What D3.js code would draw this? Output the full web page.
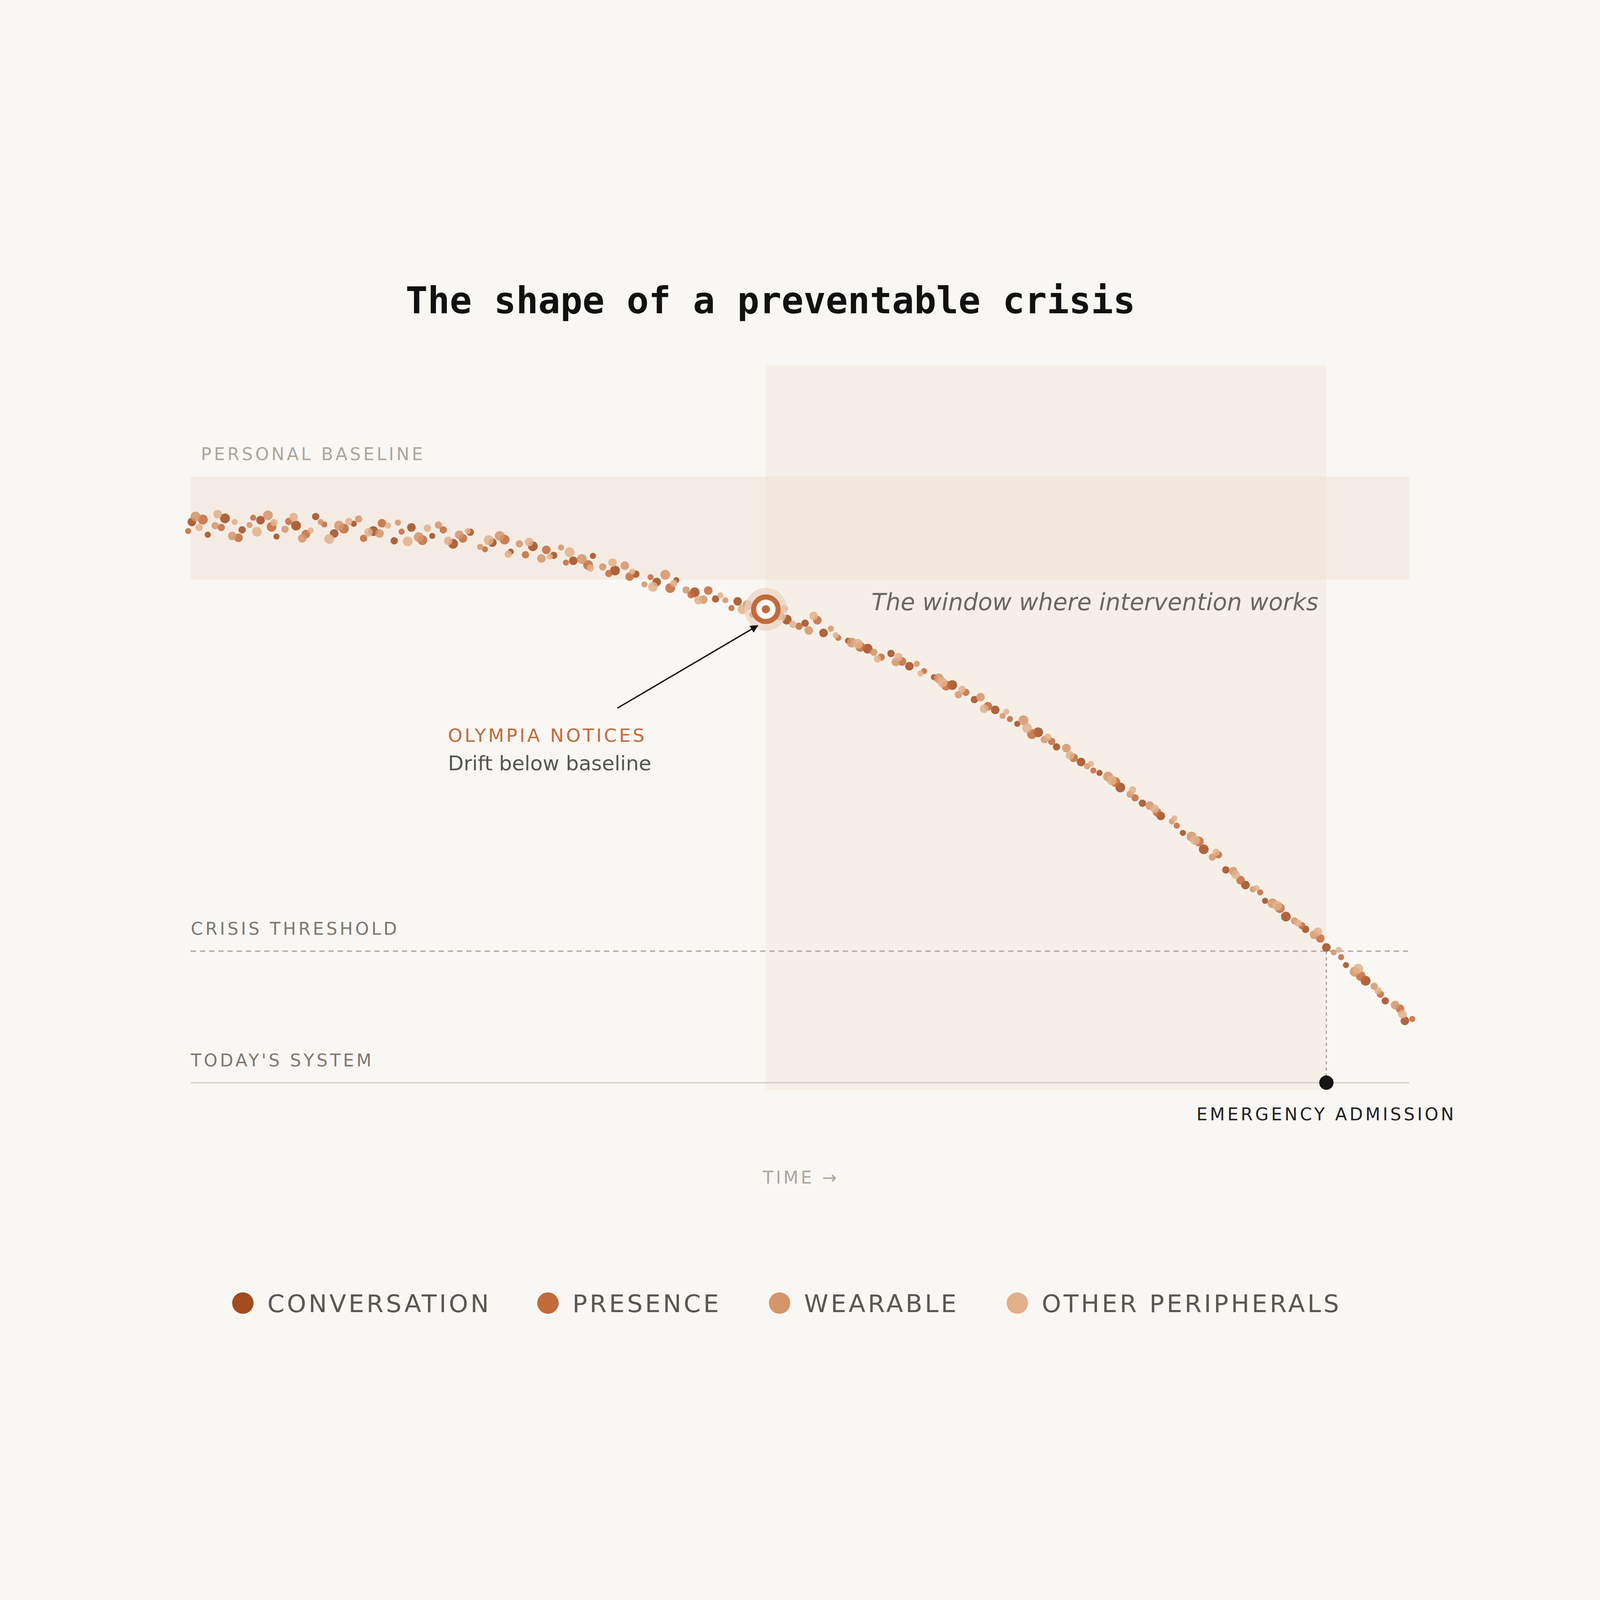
<!DOCTYPE html>
<html><head><meta charset="utf-8">
<script src="https://cdn.jsdelivr.net/npm/d3@7"></script>
<style>
html,body{margin:0;padding:0;background:#f9f7f3;overflow:hidden;width:100%;height:100%;}
svg{display:block;}
text{font-family:"DejaVu Sans",sans-serif;}
</style></head>
<body><svg id="chart"></svg>
<script>
// signal points per source: [time, wellbeing]
var conversation = [[0.5,92.5],[1.8,90.4],[3.2,93.1],[4.6,91.2],[6.1,92.8],[7.4,90.1],[9,91.9],[10.6,93.4],[12.1,90.6],[13.7,92.2],[15.3,91.0],[17,89.4],[18.4,91.6],[20.1,90.2],[21.8,88.9],[23.2,90.8],[25,89.1],[26.5,87.6],[28.3,88.5],[30,87.0],[31.6,86.1],[33.2,86.9],[35,84.5],[36.7,83.9],[38.4,82.6],[40,82.9],[41.5,80.9],[43.2,79.8],[45,79.4],[46.2,77.2],[49,76.4],[50.5,75.8],[52,74.2],[54,72.9],[55.6,71.6],[57.5,70.8],[59,68.7],[61,66.9],[62.5,65.6],[64.3,63.2],[66,61.5],[67.8,59.2],[69.5,57.8],[71,55.4],[73,52.9],[74.5,51.1],[76.2,48.7],[78,46.1],[79.5,44.0],[81.3,41.2],[83,38.5],[84.8,35.1],[86.4,32.6],[88,30.0],[89.7,27.4],[91.3,25.3],[93,22.3],[94.6,19.4],[96.2,16.8],[97.8,13.5],[99.4,10.2]];
var presence = [[0.2,91.0],[1.4,92.9],[2.9,91.6],[4.3,89.9],[5.5,93.2],[7,91.7],[8.4,92.6],[9.8,90.5],[11.3,92.1],[12.9,91.4],[14.5,89.8],[16,92.3],[17.6,90.9],[19.3,89.5],[21,91.2],[22.6,89.8],[24.4,88.0],[26,89.6],[27.7,87.1],[29.4,87.9],[31,85.8],[32.8,85.4],[34.5,84.0],[36.2,83.5],[37.9,83.4],[39.5,81.6],[41.2,80.5],[42.6,81.2],[44.5,78.3],[48.4,77.1],[50,75.3],[51.5,76.3],[53.2,73.4],[55,71.9],[56.7,70.2],[58.4,69.5],[60.2,67.9],[62,65.5],[63.6,64.4],[65.4,62.1],[67.2,60.0],[69,57.5],[70.6,56.3],[72.4,53.6],[74,51.5],[75.8,49.6],[77.4,47.0],[79.2,44.6],[80.8,42.4],[82.6,39.8],[84.2,37.6],[86,33.4],[87.6,31.4],[89.2,28.8],[91,25.9],[92.5,23.8],[94.2,20.7],[95.8,17.6],[97.4,14.6],[99,12.2],[100,10.5]];
var wearable = [[0.8,93.4],[2.4,91.9],[3.8,90.2],[5.2,92.0],[6.7,93.6],[8.1,91.3],[9.5,89.8],[11,92.5],[12.5,91.9],[14.1,93.0],[15.8,90.6],[17.3,92.4],[19,90.0],[20.6,92.0],[22.3,90.4],[24,88.4],[25.6,90.2],[27.2,88.9],[29,86.5],[30.6,88.3],[32.3,86.4],[34,85.1],[35.8,85.3],[37.4,82.2],[39.1,83.8],[40.8,81.3],[42.2,79.7],[44,79.6],[45.8,78.8],[48.8,78.2],[50.8,74.6],[52.6,74.9],[54.3,72.6],[56.1,71.0],[57.9,69.4],[59.6,69.1],[61.4,66.7],[63,64.0],[64.8,63.6],[66.6,60.5],[68.3,59.8],[70,56.6],[71.8,55.2],[73.5,52.2],[75.2,50.5],[77,47.6],[78.6,45.7],[80.4,43.1],[82,40.6],[83.7,37.2],[85.4,34.9],[87,31.9],[88.6,29.6],[90.4,26.7],[92,24.4],[93.6,21.5],[95.3,18.3],[96.9,15.9],[98.6,12.8]];
var otherPeripherals = [[1.1,91.6],[2.6,93.8],[4,92.5],[5.8,90.9],[7.2,92.4],[8.8,93.3],[10.2,91.1],[11.7,89.7],[13.3,92.6],[14.9,90.8],[16.5,91.9],[18.1,89.3],[19.7,91.5],[21.4,89.4],[23,91.0],[24.7,89.5],[26.3,87.2],[28,89.2],[29.7,86.8],[31.3,87.5],[33,84.9],[34.8,85.8],[36.4,84.3],[38.1,81.8],[39.8,82.4],[41.8,79.6],[43.6,80.4],[45.4,78.1],[49.5,75.6],[51.2,77.0],[53,73.8],[54.8,72.4],[56.4,69.9],[58.1,70.2],[59.9,67.5],[61.7,66.0],[63.3,64.9],[65.1,61.7],[66.9,61.2],[68.6,58.5],[70.3,57.0],[72.1,54.0],[73.8,52.6],[75.5,49.9],[77.2,48.3],[79,45.2],[80.6,43.6],[82.3,40.0],[84,38.0],[85.6,34.3],[87.3,32.1],[89,29.2],[90.7,26.3],[92.3,24.9],[94,21.9],[95.6,18.8],[97.2,15.2],[99.2,11.3]];

var seriesNames = ["CONVERSATION", "PRESENCE", "WEARABLE", "OTHER PERIPHERALS"];
var seriesData = [conversation, presence, wearable, otherPeripherals];
var seriesColors = ["#a24b1f", "#c36a3b", "#d4956a", "#e2b08a"];

var baselineBand = [83, 100];
var crisisThreshold = 21.7;
var todaySystem = 0;
var noticeAt = [47.3, 78.1];
var admissionAt = 93;

var W = 1568, H = 1108;
var svg = d3.select("#chart")
    .attr("viewBox", "0 0 " + W + " " + H)
    .attr("preserveAspectRatio", "xMidYMid meet")
    .style("width", "100vw").style("height", "100vh");

svg.append("rect").attr("width", W).attr("height", H).attr("fill", "#f9f7f3");

var x = d3.scaleLinear().domain([0, 100]).range([182, 1384]);
var y = d3.scaleLinear().domain([0, 100]).range([831, 237]);

// title
svg.append("text").attr("x", 755).attr("y", 77).attr("text-anchor", "middle")
    .style("font-family", "'DejaVu Sans Mono', monospace").style("font-weight", "bold")
    .style("font-size", "36px").attr("fill", "#111")
    .text("The shape of a preventable crisis");

// intervention window
svg.append("rect")
    .attr("x", x(noticeAt[0])).attr("y", 128)
    .attr("width", x(admissionAt) - x(noticeAt[0])).attr("height", 838 - 128)
    .attr("fill", "#f5efe8");

// baseline band
svg.append("rect")
    .attr("x", 187).attr("y", y(baselineBand[1]))
    .attr("width", 1381 - 187).attr("height", y(baselineBand[0]) - y(baselineBand[1]))
    .attr("fill", "#e8d5c3").attr("opacity", 0.3);

svg.append("text").attr("x", 197).attr("y", 221).attr("fill", "#aaa59d")
    .style("font-size", "17px").style("letter-spacing", "2.4px").text("PERSONAL BASELINE");

// crisis threshold
svg.append("line").attr("x1", 187).attr("x2", 1381)
    .attr("y1", y(crisisThreshold)).attr("y2", y(crisisThreshold))
    .attr("stroke", "#aaa49c").attr("stroke-width", 1.2).attr("stroke-dasharray", "5,4");
svg.append("text").attr("x", 187).attr("y", y(crisisThreshold) - 16).attr("fill", "#7d7872")
    .style("font-size", "17px").style("letter-spacing", "2.4px").text("CRISIS THRESHOLD");

// today's system
svg.append("line").attr("x1", 187).attr("x2", 1381)
    .attr("y1", y(todaySystem)).attr("y2", y(todaySystem))
    .attr("stroke", "#d2cdc6").attr("stroke-width", 1.3);
svg.append("text").attr("x", 187).attr("y", y(todaySystem) - 16).attr("fill", "#7d7872")
    .style("font-size", "17px").style("letter-spacing", "2.4px").text("TODAY'S SYSTEM");

svg.append("text").attr("x", 1292).attr("y", 368).attr("text-anchor", "end")
    .attr("fill", "#6b6660").style("font-size", "23px").style("font-style", "italic")
    .text("The window where intervention works");

// dots
seriesData.forEach(function(pts, k) {
  svg.append("g").selectAll("circle").data(pts).enter().append("circle")
      .attr("cx", function(d) { return x(d[0]); })
      .attr("cy", function(d) { return y(d[1]); })
      .attr("r", function(d, i) { return [4.2, 3.0, 4.8, 3.6][(i + k) % 4]; })
      .attr("fill", seriesColors[k])
      .attr("opacity", 0.85);
});

// admission
svg.append("line").attr("x1", x(admissionAt)).attr("x2", x(admissionAt))
    .attr("y1", y(crisisThreshold)).attr("y2", y(todaySystem))
    .attr("stroke", "#9a948c").attr("stroke-width", 1).attr("stroke-dasharray", "3,3");
svg.append("circle").attr("cx", x(admissionAt)).attr("cy", y(todaySystem)).attr("r", 7).attr("fill", "#151515");
svg.append("text").attr("x", x(admissionAt)).attr("y", 868).attr("text-anchor", "middle")
    .attr("fill", "#222").style("font-size", "17px").style("letter-spacing", "2.4px")
    .text("EMERGENCY ADMISSION");

// olympia marker
var mx = x(noticeAt[0]), my = y(noticeAt[1]);
svg.append("circle").attr("cx", mx).attr("cy", my).attr("r", 21).attr("fill", "#e9d3c2").attr("opacity", 0.7);
svg.append("circle").attr("cx", mx).attr("cy", my).attr("r", 12).attr("fill", "#fbf8f4")
    .attr("stroke", "#c36a3b").attr("stroke-width", 5);
svg.append("circle").attr("cx", mx).attr("cy", my).attr("r", 4).attr("fill", "#c36a3b");

svg.append("defs").append("marker").attr("id", "arr").attr("viewBox", "0 0 10 10")
    .attr("refX", 9).attr("refY", 5).attr("markerWidth", 6).attr("markerHeight", 6)
    .attr("orient", "auto").append("path").attr("d", "M0,0L10,5L0,10z").attr("fill", "#111");
svg.append("line").attr("x1", 605).attr("y1", 464).attr("x2", mx - 8).attr("y2", my + 16)
    .attr("stroke", "#111").attr("stroke-width", 1.3).attr("marker-end", "url(#arr)");

svg.append("text").attr("x", 439).attr("y", 497).attr("fill", "#c36a3b")
    .style("font-size", "18px").style("letter-spacing", "2.2px").text("OLYMPIA NOTICES");
svg.append("text").attr("x", 439).attr("y", 525).attr("fill", "#555")
    .style("font-size", "20px").text("Drift below baseline");

svg.append("text").attr("x", 785).attr("y", 930).attr("text-anchor", "middle").attr("fill", "#aaa59d")
    .style("font-size", "17px").style("letter-spacing", "2.4px").text("TIME \u2192");

// legend
var legendX = [238, 537, 764, 997];
var lg = svg.append("g").selectAll("g").data(seriesNames).enter().append("g")
    .attr("transform", function(d, i) { return "translate(" + legendX[i] + ",1047)"; });
lg.append("circle").attr("r", 10.5).attr("fill", function(d, i) { return seriesColors[i]; });
lg.append("text").attr("x", 24).attr("y", 9).attr("fill", "#5a5651")
    .style("font-size", "24px").style("letter-spacing", "2.4px").text(function(d) { return d; });
</script>
</body></html>
